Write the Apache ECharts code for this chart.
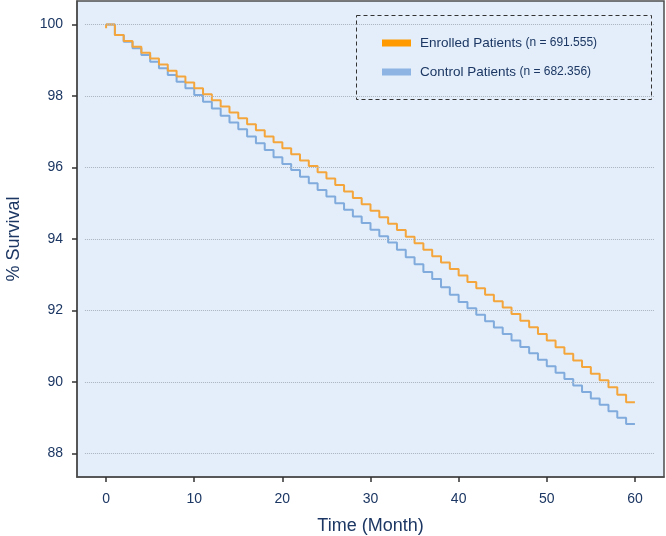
<!DOCTYPE html>
<html>
<head>
<meta charset="utf-8">
<title>Survival</title>
<script src="https://cdn.jsdelivr.net/npm/echarts@6/dist/echarts.min.js"></script>
<style>
  html, body { margin: 0; padding: 0; background: #fff; }
  #survivalChart { width: 666px; height: 536px; }
</style>
</head>
<body>
<div id="survivalChart"></div>
<script>
// months 0..60, value held until the next month
const months = [];
for (let m = 0; m <= 60; m++) months.push(m);

const enrolledValues = [
  100.00, 99.71, 99.54, 99.38, 99.21, 99.05, 98.88, 98.71, 98.55, 98.38,
  98.22, 98.05, 97.88, 97.71, 97.54, 97.38, 97.21, 97.04, 96.87, 96.71,
  96.54, 96.37, 96.20, 96.04, 95.87, 95.69, 95.51, 95.33, 95.15, 94.97,
  94.79, 94.61, 94.43, 94.25, 94.06, 93.88, 93.70, 93.52, 93.34, 93.16,
  92.98, 92.80, 92.62, 92.44, 92.26, 92.08, 91.90, 91.71, 91.53, 91.34,
  91.16, 90.97, 90.79, 90.60, 90.42, 90.23, 90.05, 89.85, 89.64, 89.43,
  89.43
];

const controlValues = [
  100.00, 99.71, 99.52, 99.34, 99.15, 98.96, 98.78, 98.59, 98.40, 98.22,
  98.03, 97.84, 97.65, 97.45, 97.26, 97.07, 96.87, 96.68, 96.49, 96.29,
  96.10, 95.93, 95.74, 95.56, 95.37, 95.19, 95.00, 94.82, 94.63, 94.45,
  94.26, 94.08, 93.90, 93.70, 93.49, 93.29, 93.08, 92.88, 92.65, 92.44,
  92.24, 92.06, 91.88, 91.70, 91.52, 91.34, 91.16, 90.98, 90.80, 90.62,
  90.44, 90.26, 90.08, 89.90, 89.72, 89.54, 89.36, 89.18, 89.00, 88.82,
  88.82
];

const enrolledStart = 99.9;
const xTicks = [0, 10, 20, 30, 40, 50, 60];
const yTicks = [88, 90, 92, 94, 96, 98, 100];

const seriesNames = ['Enrolled Patients', 'Control Patients'];
const seriesCounts = ['691.555', '682.356'];

const textColor = '#1c3763';
const axisColor = '#4d4d4d';
const fontFamily = '"Liberation Sans", Arial, Helvetica, sans-serif';

let enrolledData = [[0, enrolledStart]].concat(months.map((m, i) => [m, enrolledValues[i]]));
let controlData = months.map((m, i) => [m, controlValues[i]]);

let chart = echarts.init(document.getElementById('survivalChart'));

chart.setOption({
  animation: false,
  textStyle: { fontFamily: fontFamily },
  grid: {
    left: 77,
    right: 2,
    top: 1,
    bottom: 59,
    outerBoundsMode: 'none',
    containLabel: false,
    show: true,
    backgroundColor: '#e3eefa',
    borderColor: axisColor,
    borderWidth: 1.5
  },
  graphic: [
    {
      type: 'rect',
      left: 356,
      top: 15,
      shape: { width: 295, height: 84 },
      style: { fill: 'transparent', stroke: '#333', lineWidth: 1, lineDash: [4, 3] },
      z: 10
    }
  ],
  legend: {
    left: 377,
    top: 31,
    orient: 'vertical',
    itemWidth: 29,
    itemHeight: 7,
    itemGap: 15,
    icon: 'rect',
    data: [
      { name: seriesNames[0], itemStyle: { color: '#ff9a00' } },
      { name: seriesNames[1], itemStyle: { color: '#8db4e2' } }
    ],
    formatter: (name) => {
      let i = seriesNames.indexOf(name);
      return '{main|' + name + '} {small|(n = ' + seriesCounts[i] + ')}';
    },
    textStyle: {
      padding: [0, 0, 0, 4],
      rich: {
        main: { fontSize: 13.5, color: textColor, fontFamily: fontFamily },
        small: { fontSize: 12, color: textColor, fontFamily: fontFamily }
      }
    }
  },
  xAxis: {
    type: 'value',
    min: -3.3,
    max: 63.3,
    name: 'Time (Month)',
    nameLocation: 'middle',
    nameGap: 40,
    nameTextStyle: { fontSize: 18, color: textColor },
    axisLine: { show: true, onZero: false, lineStyle: { color: axisColor, width: 1.5 } },
    axisTick: {
      show: true,
      customValues: xTicks,
      length: 5,
      lineStyle: { color: '#333', width: 1.5 }
    },
    axisLabel: {
      customValues: xTicks,
      margin: 15,
      fontSize: 14,
      color: textColor
    },
    splitLine: { show: false }
  },
  yAxis: {
    type: 'value',
    min: 87.34,
    max: 100.66,
    name: '% Survival',
    nameLocation: 'middle',
    nameGap: 54,
    nameTextStyle: { fontSize: 18, color: textColor },
    axisLine: { show: true, onZero: false, lineStyle: { color: axisColor, width: 1.5 } },
    axisTick: {
      show: true,
      customValues: yTicks,
      length: 5,
      lineStyle: { color: '#333', width: 1.5 }
    },
    axisLabel: {
      customValues: yTicks,
      margin: 14,
      fontSize: 14,
      color: textColor
    },
    splitLine: { show: false }
  },
  series: [
    {
      name: seriesNames[1],
      type: 'line',
      step: 'end',
      showSymbol: false,
      data: controlData,
      lineStyle: { color: '#80abdc', width: 2 },
      itemStyle: { color: '#80abdc' },
      z: 3,
      markLine: {
        silent: true,
        symbol: 'none',
        label: { show: false },
        lineStyle: { color: '#a9b3bd', type: 'dotted', width: 1 },
        data: yTicks.map((y) => [
          { coord: [-2.4, y] },
          { coord: [62.2, y] }
        ])
      }
    },
    {
      name: seriesNames[0],
      type: 'line',
      step: 'end',
      showSymbol: false,
      data: enrolledData,
      lineStyle: { color: '#f4a63c', width: 2 },
      itemStyle: { color: '#f4a63c' },
      z: 4
    }
  ]
});
</script>
</body>
</html>
